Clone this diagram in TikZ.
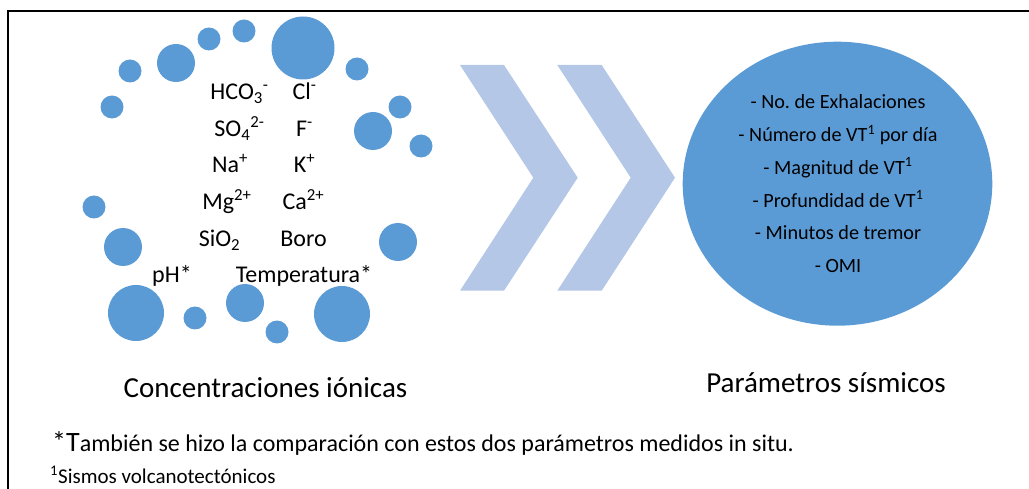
\documentclass[tikz,border=0pt]{standalone}
\usepackage{fontspec}
\setmainfont{Carlito}
\usetikzlibrary{shapes.geometric}
\frenchspacing

\definecolor{bubbleblue}{HTML}{5B9BD5}
\definecolor{chevronblue}{HTML}{B4C7E7}

\newcommand*\listsize{\fontsize{24}{28}\selectfont}
\newcommand*\paramsize{\fontsize{20.2}{24}\selectfont}
\tikzset{bubble/.style={
    circle,
    fill=bubbleblue,
    inner sep=0pt,
    minimum size=2*#1
}}
\tikzset{ion/.style={
    anchor=base,
    inner sep=0pt,
    font=\listsize
}}
\tikzset{param/.style={
    anchor=base,
    inner sep=0pt,
    font=\paramsize
}}

\begin{document}
\begin{tikzpicture}[x=1pt,y=-1pt]
    \useasboundingbox (0,0) rectangle (1029,489);

    % Frame (only top and left edges are visible).
    \draw[line width=1.2pt] (8,489) -- (8,11) -- (1029,11);

    % Bubbles round the ion list: x/y/radius.
    \foreach \x/\y/\r [count=\i] in {303/48/31.5,244/31/11.5,209/39/11.5,176/63/19,
        130/71/11.5,112/107/11.5,357/69/11.5,400/107/11.5,373/131/19,421/146/11.5,
        94/207/11.5,123/247/19,398/242/19,136/313/28,195/318/11.5,245/303/19,
        277/332/11.5,342/314/28}
        \node[bubble=\r] (b\i) at (\x,\y) {};

    % Ions, left and right column.
    \node[ion] (hco) at (239.5,100) {HCO\textsubscript{3}\textsuperscript{-}};
    \node[ion] (cl) at (304.5,100) {Cl\textsuperscript{-}};
    \node[ion] (so) at (239.5,137) {SO\textsubscript{4}\textsuperscript{2-}};
    \node[ion] (f) at (304.5,137) {F\textsuperscript{-}};
    \node[ion] (na) at (230,173) {Na\textsuperscript{+}};
    \node[ion] (k) at (304.5,173) {K\textsuperscript{+}};
    \node[ion] (mg) at (227,210) {Mg\textsuperscript{2+}};
    \node[ion] (ca) at (303.5,210) {Ca\textsuperscript{2+}};
    \node[ion] (si) at (219.5,247) {SiO\textsubscript{2}};
    \node[ion] (boro) at (303.5,247) {Boro};
    \node[ion] (ph) at (172,283) {pH*};
    \node[ion] (temp) at (304,283) {Temperatura*};

    % Two chevrons.
    \fill[chevronblue] (460,65) -- (504,65) -- (577.7,177.7) -- (504,290.7)
        -- (460,290.7) -- (533.3,177.7) -- cycle;
    \fill[chevronblue] (557.3,65) -- (601.7,65) -- (675,177.7) -- (601.7,290.7)
        -- (557.3,290.7) -- (630.7,177.7) -- cycle;

    % Seismic parameters.
    \node[ellipse, fill=bubbleblue, inner sep=0pt, minimum width=309.6,
        minimum height=284] (seis) at (837.5,183.7) {};
    \foreach \y/\txt [count=\i] in {109/- No. de Exhalaciones,
        141.7/- Número de VT\textsuperscript{1} por día,
        174.4/- Magnitud de VT\textsuperscript{1},
        207.1/- Profundidad de VT\textsuperscript{1},
        239.8/- Minutos de tremor,
        272.5/- OMI}
        \node[param] (p\i) at (838,\y) {\txt};

    % Captions.
    \node[anchor=base, inner sep=0pt, font=\fontsize{29}{34}\selectfont] (ioncap)
        at (265.5,397) {Concentraciones iónicas};
    \node[anchor=base, inner sep=0pt, font=\fontsize{29}{34}\selectfont] (seiscap)
        at (826,392.7) {Parámetros sísmicos};

    % Footnotes.
    \node[anchor=base west, inner sep=0pt, font=\fontsize{24}{28}\selectfont] (note1)
        at (52,451.7) {{\fontsize{28}{28}\selectfont *T}ambién se hizo la comparación con estos dos parámetros medidos in situ.};
    \node[anchor=base west, inner sep=0pt, font=\fontsize{21}{24}\selectfont] (note2)
        at (50,483.3) {\textsuperscript{1}Sismos volcanotectónicos};

\end{tikzpicture}
\end{document}
